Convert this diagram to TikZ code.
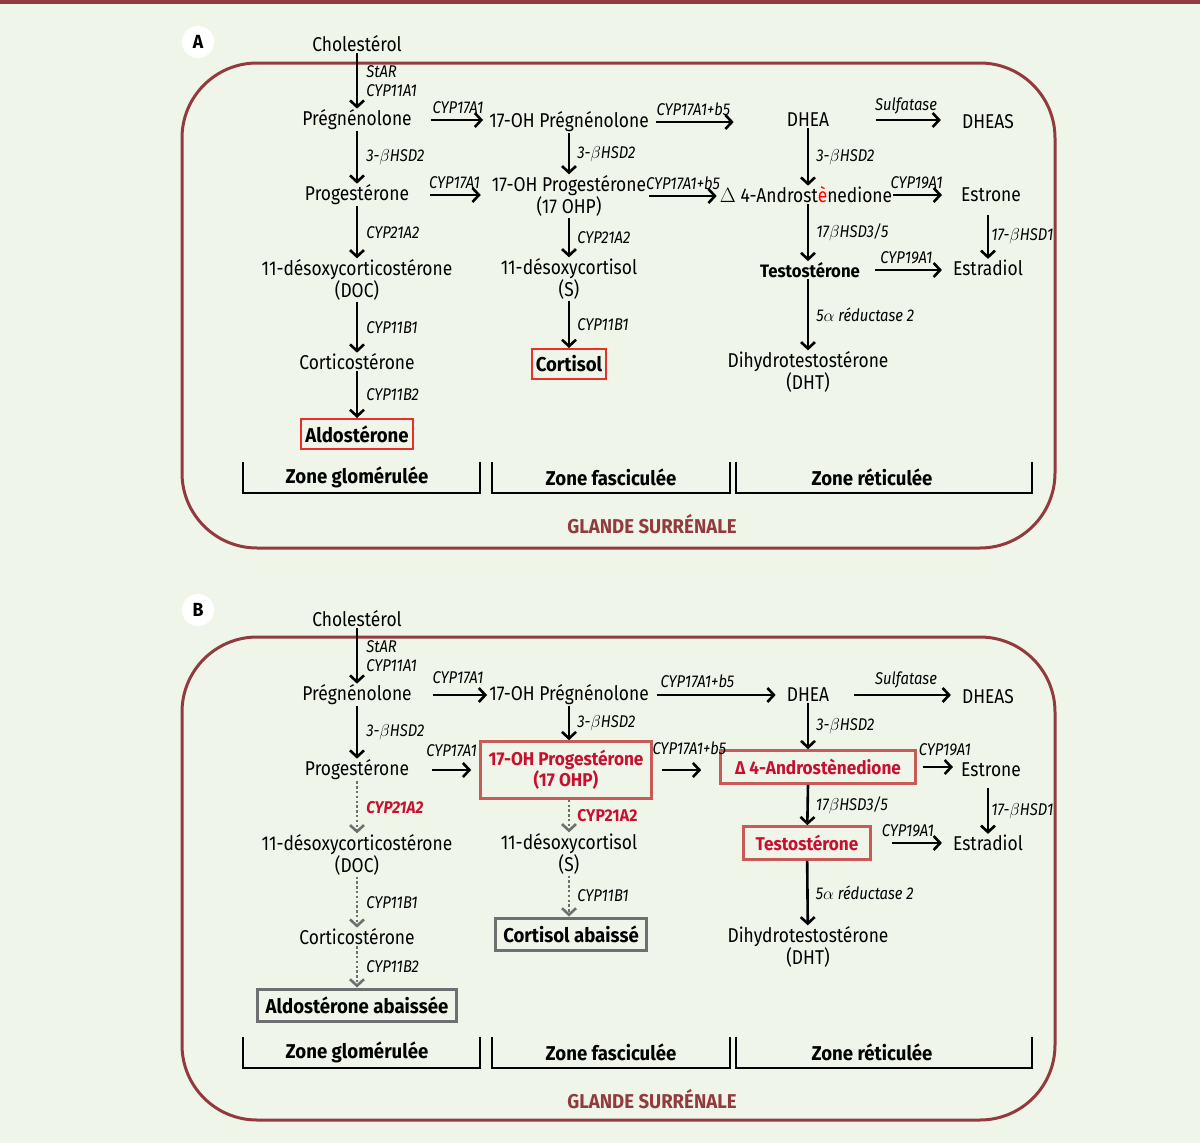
\documentclass[tikz,border=0pt]{standalone}
\usepackage{fontspec}
\setmainfont{Fira Sans}[
  UprightFeatures={FakeStretch=0.87},
  ItalicFeatures={FakeStretch=0.87},
  BoldFeatures={FakeStretch=0.93},
  BoldItalicFeatures={FakeStretch=0.9}]
\usetikzlibrary{arrows.meta}
\definecolor{fond}{HTML}{EFF6E9}
\definecolor{glande}{HTML}{923B3F}
\definecolor{vif}{HTML}{E8302A}
\definecolor{sourd}{HTML}{C65B58}
\definecolor{rouge}{HTML}{C8102E}
\definecolor{gris}{HTML}{6E6F71}

\begin{document}
\begin{tikzpicture}[x=1pt,y=-1pt,
  met/.style={font=\fontsize{20}{22}\selectfont, align=center, inner sep=1pt},
  enz/.style={font=\fontsize{17}{19}\selectfont\itshape, inner sep=2pt, align=left},
  arr/.style={line width=2.6pt, -{Straight Barb[length=6.5pt,width=14pt]}},
  pointille/.style={gris, line width=2.6pt, dash pattern=on 2.4pt off 2.4pt, -{Straight Barb[length=6.5pt,width=14pt]}},
  cadreA/.style={draw=vif, line width=2pt, inner xsep=4pt, minimum height=30pt, font=\fontsize{20}{22}\selectfont\bfseries},
  cadreB/.style={draw=sourd, line width=2.6pt, text=rouge, inner xsep=6pt, minimum height=33pt, font=\fontsize{18.5}{21}\selectfont\bfseries, align=center},
  cadreG/.style={draw=gris, line width=3pt, inner xsep=8pt, minimum height=32pt, font=\fontsize{20}{22}\selectfont\bfseries},
  panneau/.style={draw=glande, line width=3pt, rounded corners=75pt},
  zone/.style={line width=2.2pt},
  zonelab/.style={font=\fontsize{20}{22}\selectfont\bfseries},
  glandelab/.style={text=glande, font=\fontsize{20}{22}\selectfont\bfseries},
  lettre/.style={circle, fill=white, inner sep=0pt, minimum size=32pt, font=\fontsize{19}{20}\selectfont\bfseries}]

  \useasboundingbox (0,0) rectangle (1200,1143);
  \fill[fond] (0,0) rectangle (1200,1143);
  \draw[glande, line width=4pt] (0,2) -- (1200,2);

  \draw[panneau] (182,63) rectangle (1055,548);
  \draw[panneau] (182,637) rectangle (1055,1120);

  \node[lettre] (lettreA) at (198,42) {A};
  \node[lettre] (lettreB) at (198,610) {B};

  % zones des deux panneaux
  \foreach \dy/\p in {0/A,575/B} {
    \draw[zone] (243,462+\dy) |- (480,493+\dy) -- (480,462+\dy);
    \draw[zone] (492,462+\dy) |- (730,493+\dy) -- (730,462+\dy);
    \draw[zone] (736,462+\dy) |- (1032,493+\dy) -- (1032,462+\dy);
    \node[zonelab] (glom\p) at (357,477+\dy) {Zone glomérulée};
    \node[zonelab] (fasc\p) at (611,477+\dy) {Zone fasciculée};
    \node[zonelab] (reti\p) at (872,477+\dy) {Zone réticulée};
    \node[glandelab] (glande\p) at (652,524+\dy) {GLANDE SURRÉNALE};
  }

  %%% panneau A
  \node[met] (cholA) at (357,44) {Cholestérol};
  \node[met] (pregA) at (357,120) {Prégnénolone};
  \node[met] (progA) at (357,195) {Progestérone};
  \node[met] (docA) at (357,280) {11-désoxycorticostérone\\(DOC)};
  \node[met] (corticoA) at (357,362) {Corticostérone};
  \node[cadreA] (aldoA) at (357,434) {Aldostérone};
  \node[met] (ohpregA) at (569,122) {17-OH Prégnénolone};
  \node[met] (ohprogA) at (569,196) {17-OH Progestérone\\(17 OHP)};
  \node[met] (sA) at (569,279) {11-désoxycortisol\\(S)};
  \node[cadreA] (cortA) at (569,364) {Cortisol};
  \node[met] (dheaA) at (808,120) {DHEA};
  \node[met] (dheasA) at (988,122) {DHEAS};
  \node[met] (androA) at (806,195) {$\Delta$ 4-Androst{\color{red}è}nedione};
  \node[met, font=\fontsize{18}{22}\selectfont\bfseries] (testoA) at (810,270) {Testostérone};
  \node[met] (estroneA) at (991,195) {Estrone};
  \node[met] (estradiolA) at (988,268) {Estradiol};
  \node[met] (dhtA) at (808,372) {Dihydrotestostérone\\(DHT)};

  \draw[arr] (cholA) -- (pregA) node[enz, midway, right, xshift=6pt] {StAR\\CYP11A1};
  \draw[arr] (pregA) -- (progA) node[enz, midway, right, xshift=6pt] {3-$\beta$HSD2};
  \draw[arr] (progA) -- (docA) node[enz, midway, right, xshift=6pt] {CYP21A2};
  \draw[arr] (docA) -- (corticoA) node[enz, midway, right, xshift=6pt] {CYP11B1};
  \draw[arr] (corticoA) -- (aldoA) node[enz, midway, right, xshift=6pt] {CYP11B2};
  \draw[arr] (ohpregA) -- (ohprogA) node[enz, midway, right, xshift=5pt] {3-$\beta$HSD2};
  \draw[arr] (ohprogA) -- (sA) node[enz, midway, right, xshift=5pt] {CYP21A2};
  \draw[arr] (sA) -- (cortA) node[enz, midway, right, xshift=5pt] {CYP11B1};
  \draw[arr] (dheaA) -- (dheaA |- androA.north) node[enz, midway, right, xshift=5pt] {3-$\beta$HSD2};
  \draw[arr] (dheaA |- androA.south) -- (dheaA |- testoA.north) node[enz, midway, right, xshift=5pt] {17$\beta$HSD3/5};
  \draw[arr] (dheaA |- testoA.south) -- (dhtA) node[enz, midway, right, xshift=5pt] {5$\alpha$ réductase 2};
  \draw[arr, shorten <=12pt] (estroneA.south -| estradiolA) -- (estradiolA) node[enz, pos=0.6, right, xshift=0pt] {17-$\beta$HSD1};

  \draw[arr, shorten <=18pt, shorten >=5pt] (pregA.east) -- (pregA.east -| ohpregA.west) node[enz, pos=0.6, above, yshift=3pt] {CYP17A1};
  \draw[arr, shorten <=20pt, shorten >=10pt] (progA.east) -- (progA.east -| ohprogA.west) node[enz, pos=0.55, above, yshift=3pt] {CYP17A1};
  \draw[arr, shorten <=6pt, shorten >=52pt] (ohpregA.east) -- (ohpregA.east -| dheaA.west) node[enz, pos=0.32, above, yshift=3pt] {CYP17A1+b5};
  \draw[arr, shorten <=46pt, shorten >=20pt] (dheaA.east) -- (dheaA.east -| dheasA.west) node[enz, pos=0.58, above, yshift=3pt] {Sulfatase};
  \draw[arr, shorten <=2pt, shorten >=2pt] (ohprogA.east) -- (ohprogA.east -| androA.west) node[enz, midway, above, yshift=3pt] {CYP17A1+b5};
  \draw[arr, shorten >=18pt] (androA.east) -- (androA.east -| estroneA.west) node[enz, pos=0.35, above, yshift=3pt] {CYP19A1};
  \draw[arr, shorten <=14pt, shorten >=10pt] (testoA.east) -- (testoA.east -| estradiolA.west) node[enz, midway, above, yshift=3pt] {CYP19A1};

  %%% panneau B
  \node[met] (cholB) at (357,619) {Cholestérol};
  \node[met] (pregB) at (357,695) {Prégnénolone};
  \node[met] (progB) at (357,770) {Progestérone};
  \node[met] (docB) at (357,855) {11-désoxycorticostérone\\(DOC)};
  \node[met] (corticoB) at (357,937) {Corticostérone};
  \node[cadreG] (aldoB) at (357,1005) {Aldostérone abaissée};
  \node[met] (ohpregB) at (569,695) {17-OH Prégnénolone};
  \node[cadreB, minimum width=171pt, minimum height=57pt] (ohprogB) at (566,770) {17-OH Progestérone\\(17 OHP)};
  \node[met] (sB) at (569,854) {11-désoxycortisol\\(S)};
  \node[cadreG] (cortB) at (571,934) {Cortisol abaissé};
  \node[met] (dheaB) at (808,695) {DHEA};
  \node[met] (dheasB) at (988,697) {DHEAS};
  \node[cadreB, minimum width=195pt] (androB) at (818,767) {Δ 4-Androstènedione};
  \node[cadreB, minimum width=127pt] (testoB) at (807,843) {Testostérone};
  \node[met] (estroneB) at (991,770) {Estrone};
  \node[met] (estradiolB) at (988,843) {Estradiol};
  \node[met] (dhtB) at (808,947) {Dihydrotestostérone\\(DHT)};

  \draw[arr] (cholB) -- (pregB) node[enz, midway, right, xshift=6pt] {StAR\\CYP11A1};
  \draw[arr] (pregB) -- (progB) node[enz, midway, right, xshift=6pt] {3-$\beta$HSD2};
  \draw[pointille] (progB) -- (docB) node[enz, midway, right, xshift=6pt, text=rouge, font=\fontsize{17}{19}\selectfont\bfseries\itshape] {CYP21A2};
  \draw[pointille] (docB) -- (corticoB) node[enz, midway, right, xshift=6pt, text=black] {CYP11B1};
  \draw[pointille] (corticoB) -- (aldoB) node[enz, midway, right, xshift=6pt, text=black] {CYP11B2};
  \draw[arr] (ohpregB) -- (ohpregB |- ohprogB.north) node[enz, midway, right, xshift=5pt] {3-$\beta$HSD2};
  \draw[pointille] (ohpregB |- ohprogB.south) -- (sB) node[enz, midway, right, xshift=5pt, text=rouge, font=\fontsize{17}{19}\selectfont\bfseries] {CYP21A2};
  \draw[pointille] (sB) -- (sB |- cortB.north) node[enz, midway, right, xshift=5pt, text=black] {CYP11B1};
  \draw[arr] (dheaB) -- (dheaB |- androB.north) node[enz, midway, right, xshift=5pt] {3-$\beta$HSD2};
  \draw[arr] (dheaB |- androB.south) -- (testoB) node[enz, midway, right, xshift=5pt] {17$\beta$HSD3/5};
  \draw[arr] (testoB) -- (dhtB) node[enz, midway, right, xshift=5pt] {5$\alpha$ réductase 2};
  \draw[arr, shorten <=10pt] (estroneB.south -| estradiolB) -- (estradiolB) node[enz, pos=0.6, right, xshift=0pt] {17-$\beta$HSD1};

  \draw[arr, shorten <=20pt, shorten >=1pt] (pregB.east) -- (pregB.east -| ohpregB.west) node[enz, pos=0.6, above, yshift=8pt] {CYP17A1};
  \draw[arr, shorten <=22pt, shorten >=8pt] (progB.east) -- (progB.east -| ohprogB.west) node[enz, pos=0.6, above, yshift=10pt] {CYP17A1};
  \draw[arr, shorten <=7pt, shorten >=10pt] (ohpregB.east) -- (ohpregB.east -| dheaB.west) node[enz, pos=0.35, above, yshift=4pt] {CYP17A1+b5};
  \draw[arr, shorten <=24pt, shorten >=10pt] (dheaB.east) -- (dheaB.east -| dheasB.west) node[enz, pos=0.58, above, yshift=4pt] {Sulfatase};
  \draw[arr, shorten <=9pt, shorten >=18pt] (ohprogB.east) -- (ohprogB.east -| androB.west) node[enz, pos=0.55, above, yshift=12pt] {CYP17A1+b5};
  \draw[arr, shorten <=6pt, shorten >=7pt] (androB.east) -- (androB.east -| estroneB.west) node[enz, pos=0.65, above, yshift=8pt] {CYP19A1};
  \draw[arr, shorten <=20pt, shorten >=10pt] (testoB.east) -- (testoB.east -| estradiolB.west) node[enz, pos=0.45, above, yshift=3pt] {CYP19A1};
\end{tikzpicture}
\end{document}
